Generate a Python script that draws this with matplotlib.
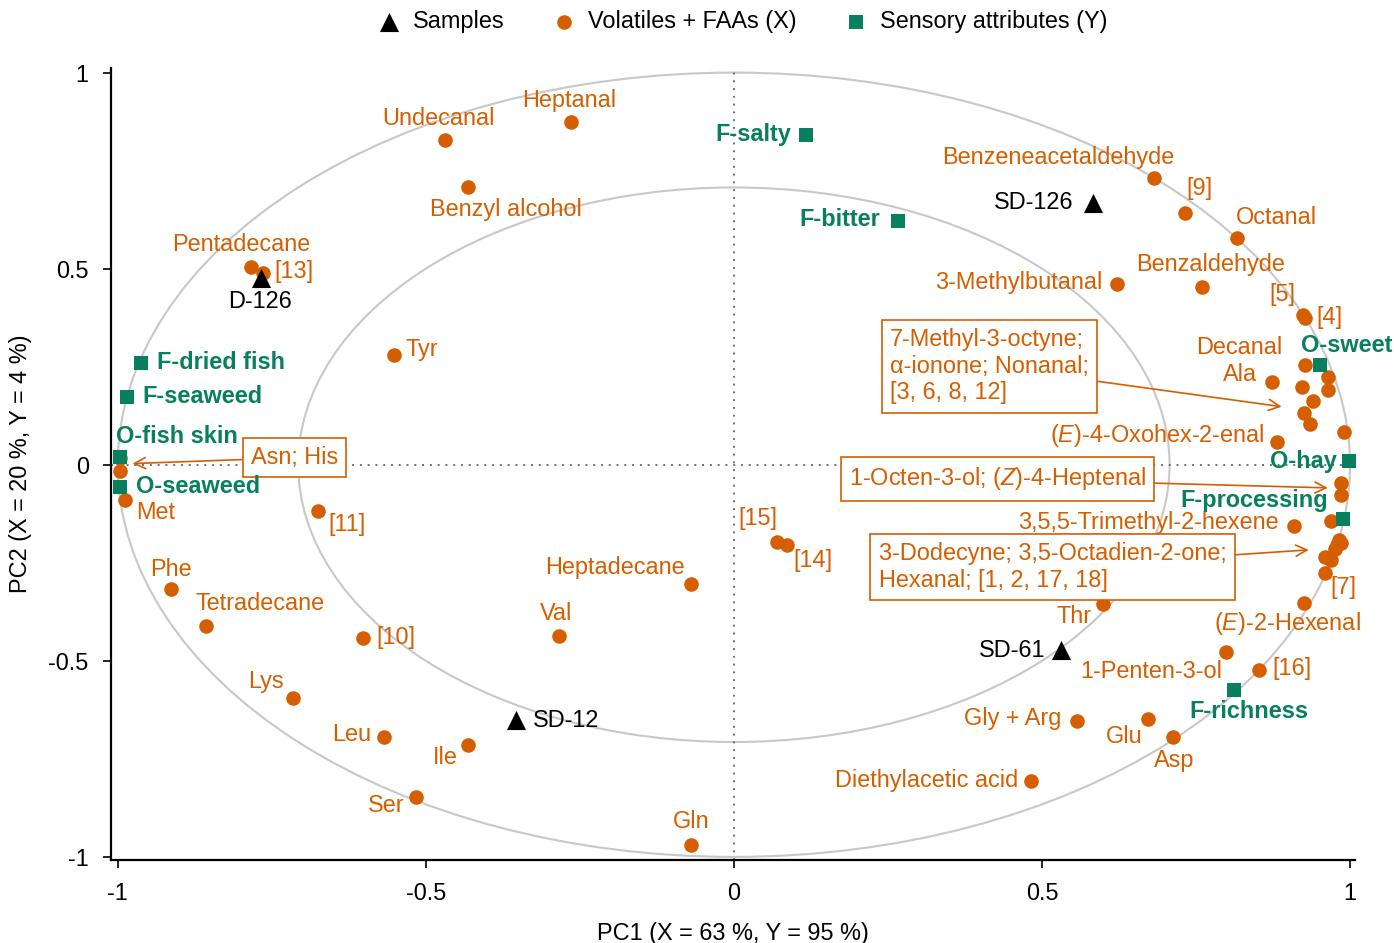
import numpy as np
import matplotlib
matplotlib.use("Agg")
import matplotlib.pyplot as plt
from matplotlib.patches import Ellipse

plt.rcParams['font.family'] = ['Liberation Sans', 'DejaVu Sans']
plt.rcParams['mathtext.fontset'] = 'custom'
plt.rcParams['mathtext.rm'] = 'Liberation Sans'
plt.rcParams['mathtext.it'] = 'Liberation Sans:italic'

ORANGE = '#D55E00'
GREEN = '#087F5F'
FS = 16.9

# samples (PC1, PC2)
sample_names = ['SD-126', 'D-126', 'SD-61', 'SD-12']
sample_x = [0.583, -0.768, 0.531, -0.354]
sample_y = [0.668, 0.477, -0.472, -0.651]
sample_lab_x = [0.487, -0.769, 0.451, -0.273]
sample_lab_y = [0.668, 0.416, -0.474, -0.653]

# sensory attributes (Y)
sens_names = ['F-salty', 'F-bitter', 'F-dried fish', 'F-seaweed', 'O-fish skin',
              'O-seaweed', 'O-sweet', 'O-hay', 'F-processing', 'F-richness']
sens_x = [0.117, 0.266, -0.963, -0.985, -0.997, -0.997, 0.951, 0.998, 0.989, 0.812]
sens_y = [0.842, 0.622, 0.260, 0.173, 0.020, -0.056, 0.255, 0.010, -0.138, -0.574]
sens_lab_x = [0.031, 0.172, -0.833, -0.862, -0.904, -0.870, 0.995, 0.924, 0.844, 0.836]
sens_lab_y = [0.842, 0.625, 0.260, 0.173, 0.071, -0.056, 0.304, 0.008, -0.092, -0.630]

# volatiles + FAAs (X) with their own labels
vol_names = ['Undecanal', 'Heptanal', 'Benzyl alcohol', 'Pentadecane', '[13]', 'Tyr',
             'Met', '[11]', 'Phe', 'Tetradecane', '[10]', 'Val', 'Heptadecane',
             '[15]', '[14]', 'Lys', 'Leu', 'Ile', 'Ser', 'Gln', 'Diethylacetic acid',
             'Gly + Arg', 'Glu', 'Asp', '1-Penten-3-ol', '[16]', 'Thr',
             r'($\it{E}$)-2-Hexenal', '[7]', '3,5,5-Trimethyl-2-hexene',
             r'($\it{E}$)-4-Oxohex-2-enal', 'Ala', 'Decanal', '[4]', '[5]',
             'Benzaldehyde', '3-Methylbutanal', 'Octanal', '[9]', 'Benzeneacetaldehyde']
vol_x = [-0.469, -0.265, -0.432, -0.784, -0.765, -0.552,
         -0.989, -0.675, -0.914, -0.856, -0.602, -0.284, -0.070,
         0.070, 0.086, -0.716, -0.568, -0.432, -0.516, -0.070, 0.482,
         0.557, 0.672, 0.713, 0.799, 0.852, 0.599,
         0.925, 0.959, 0.909,
         0.881, 0.873, 0.927, 0.927, 0.924,
         0.760, 0.622, 0.817, 0.732, 0.682]
vol_y = [0.829, 0.875, 0.709, 0.505, 0.488, 0.281,
         -0.089, -0.117, -0.316, -0.411, -0.441, -0.436, -0.304,
         -0.196, -0.204, -0.594, -0.694, -0.714, -0.847, -0.969, -0.806,
         -0.653, -0.648, -0.694, -0.477, -0.523, -0.355,
         -0.352, -0.276, -0.156,
         0.059, 0.212, 0.255, 0.375, 0.383,
         0.454, 0.462, 0.577, 0.643, 0.732]
vol_lab_x = [-0.479, -0.268, -0.370, -0.799, -0.714, -0.506,
             -0.938, -0.628, -0.914, -0.769, -0.549, -0.289, -0.193,
             0.039, 0.128, -0.760, -0.620, -0.468, -0.565, -0.070, 0.312,
             0.453, 0.633, 0.714, 0.677, 0.906, 0.552,
             0.899, 0.989, 0.672,
             0.688, 0.821, 0.820, 0.966, 0.890,
             0.774, 0.463, 0.881, 0.756, 0.526]
vol_lab_y = [0.883, 0.929, 0.651, 0.561, 0.492, 0.293,
             -0.122, -0.153, -0.268, -0.355, -0.441, -0.380, -0.263,
             -0.138, -0.245, -0.554, -0.689, -0.747, -0.870, -0.911, -0.806,
             -0.648, -0.694, -0.753, -0.526, -0.520, -0.388,
             -0.406, -0.314, -0.148,
             0.074, 0.230, 0.298, 0.375, 0.434,
             0.510, 0.464, 0.630, 0.704, 0.783]

# volatiles + FAAs grouped under boxed labels
groups = [
    ('Asn; His', [-0.997, -0.997], [0.018, -0.015]),
    ('7-Methyl-3-octyne;\nα-ionone; Nonanal;\n[3, 6, 8, 12]',
     [0.964, 0.964, 0.922, 0.940, 0.925, 0.935, 0.990],
     [0.224, 0.191, 0.199, 0.163, 0.132, 0.105, 0.084]),
    (r'1-Octen-3-ol; ($\it{Z}$)-4-Heptenal', [0.985, 0.985], [-0.046, -0.077]),
    ('3-Dodecyne; 3,5-Octadien-2-one;\nHexanal; [1, 2, 17, 18]',
     [0.969, 0.982, 0.979, 0.985, 0.959, 0.969, 0.975],
     [-0.143, -0.191, -0.204, -0.199, -0.235, -0.242, -0.215]),
]
# box text anchor (left/centre) and arrow tip
group_lab_x = [-0.784, 0.253, 0.187, 0.235]
group_lab_y = [0.018, 0.251, -0.036, -0.261]
group_tip_x = [-0.976, 0.889, 0.964, 0.933]
group_tip_y = [0.003, 0.148, -0.059, -0.217]

fig = plt.figure(figsize=(13.94, 9.43), dpi=100)
ax = fig.add_axes([0.0796, 0.088, 0.8924, 0.840])

# correlation circles
for r in [1.0, np.sqrt(0.5)]:
    ax.add_patch(Ellipse((0, 0), 2 * r, 2 * r, fill=False, ec='#C8C8C8', lw=1.5, zorder=1))
ax.axhline(0, color='#707070', ls=(0, (1, 3)), lw=1.4, zorder=1)
ax.axvline(0, color='#707070', ls=(0, (1, 3)), lw=1.4, zorder=1)

# points
all_vx = list(vol_x)
all_vy = list(vol_y)
for g in groups:
    all_vx += g[1]
    all_vy += g[2]
ax.scatter(all_vx, all_vy, s=110, c=ORANGE, marker='o', lw=0, zorder=3,
           label='Volatiles + FAAs (X)')
ax.scatter(sens_x, sens_y, s=90, c=GREEN, marker='s', lw=0, zorder=4,
           label='Sensory attributes (Y)')
ax.scatter(sample_x, sample_y, s=190, c='black', marker='^', lw=0, zorder=5,
           label='Samples')

for n, lx, ly in zip(vol_names, vol_lab_x, vol_lab_y):
    ax.text(lx, ly, n, color=ORANGE, fontsize=FS, ha='center', va='center', zorder=6)
for n, lx, ly in zip(sens_names, sens_lab_x, sens_lab_y):
    ax.text(lx, ly, n, color=GREEN, fontsize=FS, fontweight='bold',
            ha='center', va='center', zorder=7)
for n, lx, ly in zip(sample_names, sample_lab_x, sample_lab_y):
    ax.text(lx, ly, n, color='black', fontsize=FS, ha='center', va='center', zorder=6)

for g, lx, ly, tx, ty in zip(groups, group_lab_x, group_lab_y, group_tip_x, group_tip_y):
    ax.annotate(g[0], xy=(tx, ty), xytext=(lx, ly), color=ORANGE, fontsize=FS,
                ha='left', va='center', linespacing=1.2, zorder=6,
                bbox=dict(boxstyle='square,pad=0.35', fc='white', ec=ORANGE, lw=1.2),
                arrowprops=dict(arrowstyle='->', color=ORANGE, lw=1.2,
                                mutation_scale=20, shrinkA=0, shrinkB=0))

ax.set_xlim(-1.011, 1.008)
ax.set_ylim(-1.008, 1.012)
ax.set_xticks([-1, -0.5, 0, 0.5, 1])
ax.set_xticklabels(['-1', '-0.5', '0', '0.5', '1'])
ax.set_yticks([-1, -0.5, 0, 0.5, 1])
ax.set_yticklabels(['-1', '-0.5', '0', '0.5', '1'])
ax.tick_params(labelsize=FS, length=6, width=1.2, direction='out', pad=10)
for s in ['top', 'right']:
    ax.spines[s].set_visible(False)
for s in ['left', 'bottom']:
    ax.spines[s].set_linewidth(1.6)
ax.set_xlabel('PC1 (X = 63 %, Y = 95 %)', fontsize=FS, labelpad=12)
ax.set_ylabel('PC2 (X = 20 %, Y = 4 %)', fontsize=FS, labelpad=12)

h, l = ax.get_legend_handles_labels()
order = [2, 0, 1]
fig.legend([h[i] for i in order], [l[i] for i in order], loc='upper center',
           bbox_to_anchor=(0.53, 1.012), ncol=3, frameon=False, fontsize=FS,
           handlelength=1.6, handletextpad=0.2, columnspacing=1.75)

fig.savefig('out.png', dpi=100)
